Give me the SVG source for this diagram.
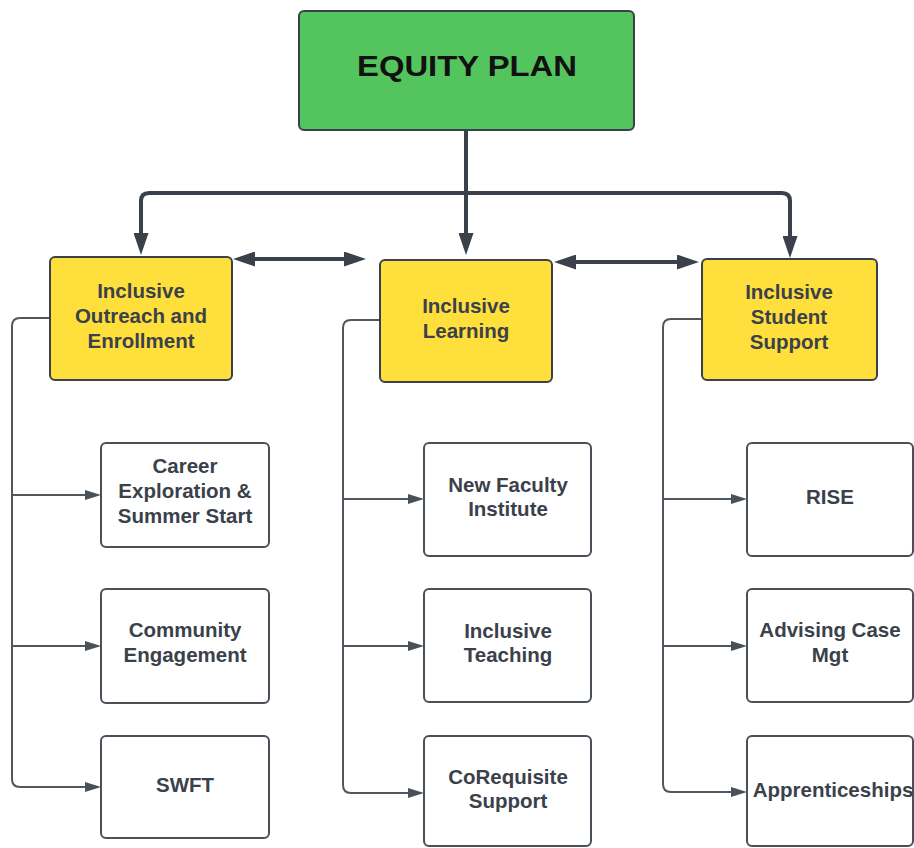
<svg xmlns="http://www.w3.org/2000/svg" width="914" height="848" viewBox="0 0 914 848">
  <style>
    .root { fill: #54c45e; stroke: #3a414a; stroke-width: 2; }
    .area { fill: #ffdf3c; stroke: #3a414a; stroke-width: 2; }
    .item { fill: #ffffff; stroke: #4a5058; stroke-width: 2; }
    text { font-family: "Liberation Sans", Arial, sans-serif; font-weight: bold; text-anchor: middle; }
    .title { font-size: 30px; fill: #111111; }
    .lbl { font-size: 20.5px; fill: #3a414a; }
    .main { fill: none; stroke: #3a414a; stroke-width: 4; }
    .branch { fill: none; stroke: #50575f; stroke-width: 2; }
  </style>
  <defs>
    <marker id="bigHead" markerUnits="userSpaceOnUse" viewBox="0 0 22 15" refX="4" refY="7.5" markerWidth="22" markerHeight="15" orient="auto-start-reverse">
      <path d="M0,0 L22,7.5 L0,15 z" fill="#3a414a"/>
    </marker>
    <marker id="smallHead" markerUnits="userSpaceOnUse" viewBox="0 0 16 10" refX="3" refY="5" markerWidth="16" markerHeight="10" orient="auto">
      <path d="M0,0 L16,5 L0,10 z" fill="#4a5058"/>
    </marker>
  </defs>

  <g id="connectors">
    <!-- trunk and fan-out to the three focus areas -->
    <path class="main" d="M466,130 V237" marker-end="url(#bigHead)"/>
    <path class="main" d="M466,193 H149 Q141,193 141,201 V237" marker-end="url(#bigHead)"/>
    <path class="main" d="M466,193 H782 Q790,193 790,201 V240" marker-end="url(#bigHead)"/>
    <!-- links between focus areas -->
    <path class="main" d="M251,259 H348" marker-start="url(#bigHead)" marker-end="url(#bigHead)"/>
    <path class="main" d="M572,262 H681" marker-start="url(#bigHead)" marker-end="url(#bigHead)"/>

    <!-- outreach branches -->
    <path class="branch" d="M50,318 H20 Q12,318 12,326 V779 Q12,787 20,787 H88" marker-end="url(#smallHead)"/>
    <path class="branch" d="M12,495 H88" marker-end="url(#smallHead)"/>
    <path class="branch" d="M12,646 H88" marker-end="url(#smallHead)"/>

    <!-- learning branches -->
    <path class="branch" d="M380,320 H351 Q343,320 343,328 V785 Q343,793 351,793 H411" marker-end="url(#smallHead)"/>
    <path class="branch" d="M343,499 H411" marker-end="url(#smallHead)"/>
    <path class="branch" d="M343,646 H411" marker-end="url(#smallHead)"/>

    <!-- student support branches -->
    <path class="branch" d="M702,319 H671 Q663,319 663,327 V784 Q663,792 671,792 H734" marker-end="url(#smallHead)"/>
    <path class="branch" d="M663,499 H734" marker-end="url(#smallHead)"/>
    <path class="branch" d="M663,646 H734" marker-end="url(#smallHead)"/>
  </g>

  <g id="equity-plan">
    <rect class="root" x="299" y="11" width="335" height="119" rx="5"/>
    <text class="title" x="467" y="76" textLength="220" lengthAdjust="spacingAndGlyphs">EQUITY PLAN</text>
  </g>

  <g id="outreach">
    <rect class="area" x="50" y="257" width="182" height="123" rx="5"/>
    <text class="lbl" x="141" y="298">Inclusive</text>
    <text class="lbl" x="141" y="323">Outreach and</text>
    <text class="lbl" x="141" y="348">Enrollment</text>
  </g>

  <g id="learning">
    <rect class="area" x="380" y="260" width="172" height="122" rx="5"/>
    <text class="lbl" x="466" y="313">Inclusive</text>
    <text class="lbl" x="466" y="338">Learning</text>
  </g>

  <g id="student-support">
    <rect class="area" x="702" y="259" width="175" height="121" rx="5"/>
    <text class="lbl" x="789" y="299">Inclusive</text>
    <text class="lbl" x="789" y="324">Student</text>
    <text class="lbl" x="789" y="349">Support</text>
  </g>

  <g id="career-exploration">
    <rect class="item" x="101" y="443" width="168" height="104" rx="5"/>
    <text class="lbl" x="185" y="473">Career</text>
    <text class="lbl" x="185" y="498">Exploration &amp;</text>
    <text class="lbl" x="185" y="523">Summer Start</text>
  </g>

  <g id="community-engagement">
    <rect class="item" x="101" y="589" width="168" height="114" rx="5"/>
    <text class="lbl" x="185" y="637">Community</text>
    <text class="lbl" x="185" y="662">Engagement</text>
  </g>

  <g id="swft">
    <rect class="item" x="101" y="736" width="168" height="102" rx="5"/>
    <text class="lbl" x="185" y="792">SWFT</text>
  </g>

  <g id="new-faculty">
    <rect class="item" x="424" y="443" width="167" height="113" rx="5"/>
    <text class="lbl" x="508" y="492">New Faculty</text>
    <text class="lbl" x="508" y="516">Institute</text>
  </g>

  <g id="inclusive-teaching">
    <rect class="item" x="424" y="589" width="167" height="113" rx="5"/>
    <text class="lbl" x="508" y="638">Inclusive</text>
    <text class="lbl" x="508" y="662">Teaching</text>
  </g>

  <g id="corequisite">
    <rect class="item" x="424" y="736" width="167" height="110" rx="5"/>
    <text class="lbl" x="508" y="784">CoRequisite</text>
    <text class="lbl" x="508" y="808">Support</text>
  </g>

  <g id="rise">
    <rect class="item" x="747" y="443" width="166" height="113" rx="5"/>
    <text class="lbl" x="830" y="504">RISE</text>
  </g>

  <g id="advising">
    <rect class="item" x="747" y="589" width="166" height="113" rx="5"/>
    <text class="lbl" x="830" y="637">Advising Case</text>
    <text class="lbl" x="830" y="662">Mgt</text>
  </g>

  <g id="apprenticeships">
    <rect class="item" x="747" y="736" width="166" height="110" rx="5"/>
    <text class="lbl" x="833" y="797">Apprenticeships</text>
  </g>
</svg>
